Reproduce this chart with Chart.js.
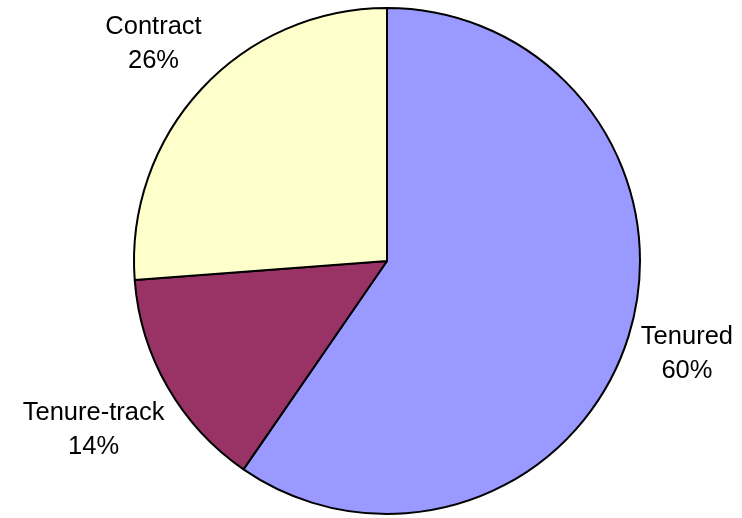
<!DOCTYPE html>
<html>
<head>
<meta charset="utf-8">
<script src="https://cdn.jsdelivr.net/npm/chart.js@4/dist/chart.umd.min.js"></script>
<style>
  html, body { margin: 0; padding: 0; background: #fff; }
  #wrap { width: 742px; height: 518px; }
</style>
</head>
<body>
<div id="wrap"><canvas id="c"></canvas></div>
<script>
// chart data (shares in percent)
const categories = ['Tenured', 'Tenure-track', 'Contract'];
const values = [59.6, 14.2, 26.2];
const sliceColors = ['#9999FF', '#993366', '#FFFFCC'];

// labels outside the pie: name on top, percent below
const outsideLabels = {
  id: 'outsideLabels',
  afterDatasetsDraw(chart) {
    const ctx = chart.ctx;
    const meta = chart.getDatasetMeta(0);
    const total = values.reduce((a, b) => a + b, 0);
    const lineH = 34, gap = 7;
    ctx.save();
    ctx.font = '25.5px "Liberation Sans", Arial, sans-serif';
    ctx.fillStyle = '#000';
    ctx.textAlign = 'center';
    ctx.textBaseline = 'middle';
    meta.data.forEach((arc, i) => {
      const p = arc.getProps(['x', 'y', 'startAngle', 'endAngle', 'outerRadius'], true);
      const mid = (p.startAngle + p.endAngle) / 2;
      const lines = [categories[i], Math.round(values[i] / total * 100) + '%'];
      const w = Math.max(...lines.map(t => ctx.measureText(t).width));
      const h = lineH * lines.length;
      const cx = Math.cos(mid), sy = Math.sin(mid);
      const ext = Math.abs(cx) * w / 2 + Math.abs(sy) * h / 2;
      const d = p.outerRadius + gap + ext;
      const lx = p.x + cx * d, ly = p.y + sy * d;
      lines.forEach((t, k) => {
        ctx.fillText(t, lx, ly + (k - (lines.length - 1) / 2) * lineH);
      });
    });
    ctx.restore();
  }
};

new Chart(document.getElementById('c'), {
  type: 'pie',
  data: {
    labels: categories,
    datasets: [{
      data: values,
      backgroundColor: sliceColors,
      borderColor: '#000',
      borderWidth: 2
    }]
  },
  options: {
    responsive: true,
    maintainAspectRatio: false,
    animation: false,
    layout: { padding: { top: 7, bottom: 3, left: 131, right: 99 } },
    plugins: {
      legend: { display: false },
      tooltip: { enabled: false }
    }
  },
  plugins: [outsideLabels]
});
</script>
</body>
</html>
